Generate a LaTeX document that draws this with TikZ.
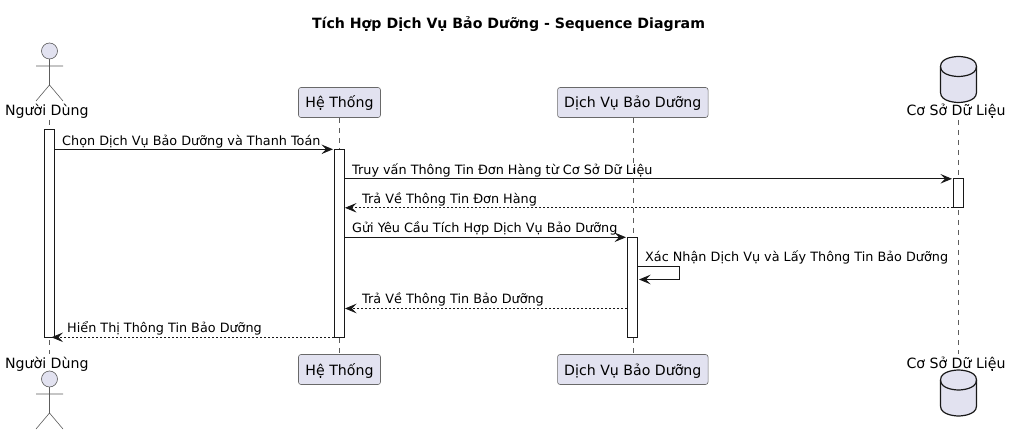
\documentclass[tikz,border=0pt]{standalone}
\usepackage{fontspec}
\setmainfont{DejaVu Sans}
\usetikzlibrary{arrows.meta}
\definecolor{pfill}{HTML}{E2E2F0}
\definecolor{pline}{HTML}{181818}
\tikzset{
  x=1pt,y=-1pt,
  titletext/.style={inner sep=0pt,anchor=base,font=\fontsize{14.15}{16}\selectfont\bfseries},
  msgtext/.style={inner sep=0pt,anchor=base west,font=\fontsize{12.8}{15}\selectfont},
  parttext/.style={inner sep=0pt,anchor=base,font=\fontsize{14.15}{16}\selectfont},
  partbox/.style={draw=pline!65!white,fill=pfill,line width=0.6pt,rounded corners=2.5pt,inner sep=0pt,minimum height=30pt,anchor=center,text height=13pt,text depth=2pt,font=\fontsize{14.15}{16}\selectfont},
  act/.style={draw=pline,fill=white,line width=1pt,inner sep=0pt,minimum width=10pt},
  life/.style={draw=pline!70!white,line width=0.5pt,dash pattern=on 5pt off 5pt},
  msg/.style={draw=pline,line width=0.9pt,-{Stealth[length=11.5pt,width=9.5pt,inset=4.5pt]},shorten >=1pt},
  ret/.style={draw=pline,line width=0.7pt,dash pattern=on 2pt off 2pt,-{Stealth[length=11.5pt,width=9.5pt,inset=4.5pt]},shorten >=0pt},
  figure/.style={draw=pline!70!white,line width=0.6pt},
  dbshape/.style={draw=pline,fill=pfill,line width=1.2pt},
}
\newcommand{\stickman}[2]{%
  \draw[figure,fill=pfill] (#1,#2) circle[radius=8];
  \draw[figure] (#1,#2+8) -- (#1,#2+34) (#1-13.5,#2+15) -- (#1+13.5,#2+15)
    (#1-13.5,#2+50) -- (#1,#2+34) -- (#1+13.5,#2+50);
}
\newcommand{\dbcyl}[2]{%
  \draw[dbshape] (#1-18,#2+10) .. controls (#1-18,#2) and (#1,#2) .. (#1,#2)
    .. controls (#1,#2) and (#1+18,#2) .. (#1+18,#2+10)
    -- (#1+18,#2+36) .. controls (#1+18,#2+46) and (#1,#2+46) .. (#1,#2+46)
    .. controls (#1,#2+46) and (#1-18,#2+46) .. (#1-18,#2+36) -- cycle;
  \draw[dbshape,fill=none] (#1-18,#2+10) .. controls (#1-18,#2+20) and (#1,#2+20) .. (#1,#2+20)
    .. controls (#1,#2+20) and (#1+18,#2+20) .. (#1+18,#2+10);
}
\begin{document}
\begin{tikzpicture}
\useasboundingbox (0,0) rectangle (1011,435);
\fill[white] (0,0) rectangle (1011,435);
\node[titletext] (title) at (508.5,28.5) {Tích Hợp Dịch Vụ Bảo Dưỡng - Sequence Diagram};

% participants
\node[parttext] (userT) at (46.8,115.5) {Người Dùng};
\node[parttext] (userB) at (46.8,368.5) {Người Dùng};
\node[partbox,minimum width=82pt] (sysT) at (339.5,102.5) {Hệ Thống};
\node[partbox,minimum width=82pt] (sysB) at (339.5,369.5) {Hệ Thống};
\node[partbox,minimum width=150.5pt] (svcT) at (632.8,102.5) {Dịch Vụ Bảo Dưỡng};
\node[partbox,minimum width=150.5pt] (svcB) at (632.8,369.5) {Dịch Vụ Bảo Dưỡng};
\node[parttext] (dbT) at (956,115.5) {Cơ Sở Dữ Liệu};
\node[parttext] (dbB) at (956,368.5) {Cơ Sở Dữ Liệu};

\coordinate (uTop) at (49.5,120);
\coordinate (uBot) at (49.5,354);
\coordinate (dTop) at (958.5,120);
\coordinate (dBot) at (958.5,354);

% lifelines
\draw[life] (uTop) -- (uBot);
\draw[life] (sysT.south) -- (sysB.north);
\draw[life] (svcT.south) -- (svcB.north);
\draw[life] (dTop) -- (dBot);

% actors, databases
\stickman{49.5}{51}
\stickman{49.5}{379}
\dbcyl{958.5}{56.5}
\dbcyl{958.5}{370}

% activations
\node[act,minimum height=208pt] (aU) at (49.5,233.3) {};
\node[act,minimum height=188pt] (aS) at (339.5,243.3) {};
\node[act,minimum height=100pt] (aV) at (632.5,287.3) {};
\node[act,minimum height=29pt] (aD) at (958.5,192.8) {};
\coordinate (uTip) at (51.5,337.3);

% messages
\draw[msg] (aU.east |- 0,149.3) -- (aS.west |- 0,149.3);
\node[msgtext] (m1) at (62,145.8) {Chọn Dịch Vụ Bảo Dưỡng và Thanh Toán};
\draw[msg] (aS.east |- 0,178.8) -- (aD.west |- 0,178.8);
\node[msgtext] (m2) at (352,174.8) {Truy vấn Thông Tin Đơn Hàng từ Cơ Sở Dữ Liệu};
\draw[ret] (aD.west |- 0,207.8) -- (aS.east |- 0,207.8);
\node[msgtext] (m3) at (362,203.8) {Trả Về Thông Tin Đơn Hàng};
\draw[msg] (aS.east |- 0,237.3) -- (aV.west |- 0,237.3);
\node[msgtext] (m4) at (352,232.8) {Gửi Yêu Cầu Tích Hợp Dịch Vụ Bảo Dưỡng};
\draw[msg] (aV.east |- 0,266.5) -- ++(41.5,0) -- ++(0,13) -- (aV.east |- 0,279.5);
\node[msgtext] (m5) at (645,261.8) {Xác Nhận Dịch Vụ và Lấy Thông Tin Bảo Dưỡng};
\draw[ret] (aV.west |- 0,308.5) -- (aS.east |- 0,308.5);
\node[msgtext] (m6) at (362,303.8) {Trả Về Thông Tin Bảo Dưỡng};
\draw[ret] (aS.west |- 0,337.3) -- (uTip);
\node[msgtext] (m7) at (67,332.8) {Hiển Thị Thông Tin Bảo Dưỡng};
\end{tikzpicture}
\end{document}
